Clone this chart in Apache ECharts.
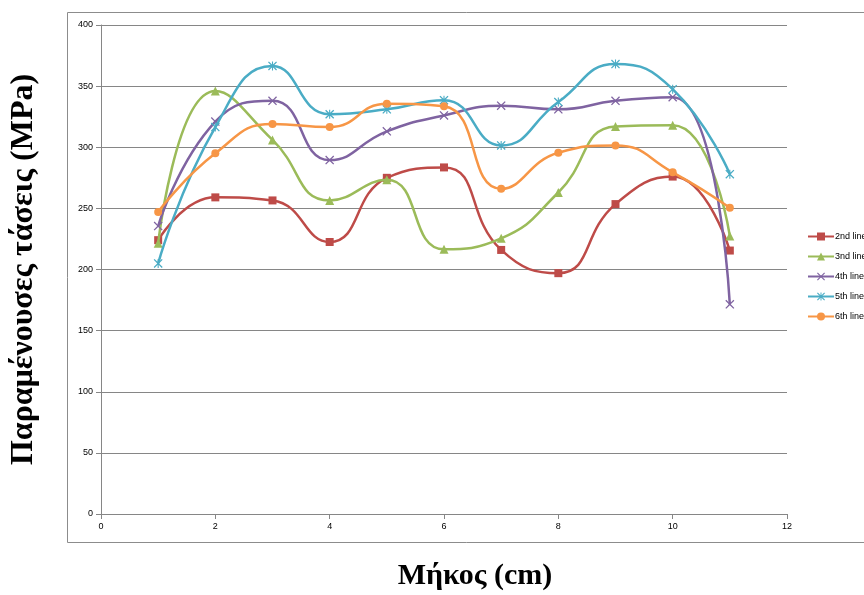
<!DOCTYPE html>
<html>
<head>
<meta charset="utf-8">
<script src="https://cdn.jsdelivr.net/npm/echarts@6/dist/echarts.min.js"></script>
<style>
  html, body { margin: 0; padding: 0; background: #fff; }
  #chart { width: 864px; height: 595px; }
</style>
</head>
<body>
<div id="chart"></div>
<script>
// Length positions (cm)
const positions = [1, 2, 3, 4, 5, 6, 7, 8, 9, 10, 11];

// Residual stress per measuring line (MPa)
const line2 = [224, 259, 256.5, 222.5, 275, 283.5, 216, 197, 253.5, 276, 215.5];
const line3 = [221.5, 346, 306, 256.5, 273.5, 216.5, 225.5, 263, 317, 318, 227.5];
const line4 = [235.5, 321, 338, 289.5, 313, 326, 334, 331, 338, 341, 171.5];
const line5 = [205, 316.5, 366.5, 327, 331, 338.5, 301.5, 337, 368, 347.5, 278];
const line6 = [247, 295, 319, 316.5, 335.5, 333.5, 266, 295.5, 301.5, 279.5, 250.5];

const seriesNames = ['2nd line', '3nd line', '4th line', '5th line', '6th line'];
const seriesColors = ['#BE4B48', '#9BBB59', '#7F63A1', '#4AACC5', '#F79646'];

const xTitle = 'Μήκος (cm)';
const yTitle = 'Παραμένουσες τάσεις (MPa)';

const crossPath = 'path://M1,0 L5,4 L9,0 L10,1 L6,5 L10,9 L9,10 L5,6 L1,10 L0,9 L4,5 L0,1 Z';
const starPath = 'path://M1,0 L5,4 L9,0 L10,1 L6,5 L10,9 L9,10 L5,6 L1,10 L0,9 L4,5 L0,1 Z M4.4,0 L5.6,0 L5.6,10 L4.4,10 Z';

const markers = [
  { symbol: 'rect', size: 8 },
  { symbol: 'triangle', size: 9 },
  { symbol: crossPath, size: 9 },
  { symbol: starPath, size: 9 },
  { symbol: 'circle', size: 8 }
];

const allValues = [line2, line3, line4, line5, line6];

const series = allValues.map((vals, i) => ({
  name: seriesNames[i],
  type: 'line',
  smooth: 0.5,
  data: positions.map((x, k) => [x, vals[k]]),
  symbol: markers[i].symbol,
  symbolSize: markers[i].size,
  showAllSymbol: true,
  lineStyle: { color: seriesColors[i], width: 2.5 },
  itemStyle: { color: seriesColors[i] },
  z: 2 + i
}));

const chart = echarts.init(document.getElementById('chart'), null, { renderer: 'canvas' });

chart.setOption({
  animation: false,
  backgroundColor: '#ffffff',
  textStyle: { fontFamily: 'Liberation Sans' },
  graphic: [{
    type: 'rect',
    shape: { x: 67.5, y: 12.5, width: 820, height: 530 },
    style: { fill: 'none', stroke: '#8C8C8C', lineWidth: 1 },
    silent: true,
    z: -1
  }],
  grid: {
    left: 101, top: 25, right: 77, bottom: 81,
    containLabel: false,
    outerBoundsMode: 'none'
  },
  legend: {
    orient: 'vertical',
    left: 807,
    top: 232,
    padding: 0,
    itemWidth: 26,
    itemHeight: 10,
    itemGap: 11,
    data: seriesNames,
    textStyle: { fontSize: 9, color: '#000', fontFamily: 'Liberation Sans', padding: [0, 0, 0, -4] }
  },
  xAxis: {
    type: 'value',
    min: 0,
    max: 12,
    interval: 2,
    name: xTitle,
    nameLocation: 'middle',
    nameGap: 47,
    nameTextStyle: {
      fontFamily: 'Liberation Serif', fontWeight: 'bold', fontSize: 30, color: '#000',
      padding: [0, 0, 0, 62]
    },
    axisLine: { onZero: false, lineStyle: { color: '#868686', width: 1 } },
    axisTick: { show: true, length: 5, lineStyle: { color: '#868686' } },
    axisLabel: { fontSize: 9, color: '#000', margin: 8 },
    splitLine: { show: false }
  },
  yAxis: {
    type: 'value',
    min: 0,
    max: 400,
    interval: 50,
    name: yTitle,
    nameLocation: 'middle',
    nameGap: 61,
    nameTextStyle: { fontFamily: 'Liberation Serif', fontWeight: 'bold', fontSize: 32, color: '#000' },
    axisLine: { show: true, lineStyle: { color: '#868686', width: 1 } },
    axisTick: { show: true, length: 5, lineStyle: { color: '#868686' } },
    axisLabel: { fontSize: 9, color: '#000', margin: 8 },
    splitLine: { show: true, lineStyle: { color: '#868686', width: 1 } }
  },
  series: series
});
</script>
</body>
</html>
